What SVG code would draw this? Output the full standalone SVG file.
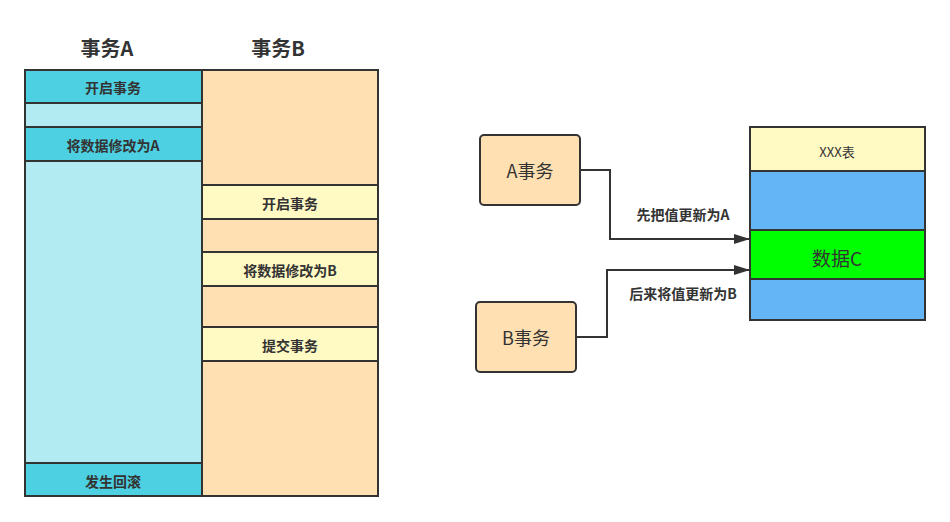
<svg xmlns="http://www.w3.org/2000/svg" width="950" height="522" viewBox="0 0 950 522">
<defs>
<style>
text{font-family:"Noto Sans CJK SC","Liberation Sans",sans-serif;fill:#333;text-anchor:middle;dominant-baseline:central}
.b{font-weight:bold;font-size:14px}
.h{font-weight:bold;font-size:20px}
.n{font-size:18px}
.c{stroke:#333;stroke-width:2}
.conn{fill:none;stroke:#333;stroke-width:2}
</style>
<marker id="arr2" viewBox="0 0 16 10" refX="16" refY="5" markerWidth="16" markerHeight="10" markerUnits="userSpaceOnUse" orient="auto"><path d="M0,0 L16,5 L0,10 z" fill="#333"/></marker>
</defs>
<g id="headers">
<text class="h" x="107" y="47">事务A</text>
<text class="h" x="278" y="47">事务B</text>
</g>
<g id="colA">
<rect class="c" x="25" y="70" width="177" height="426" fill="#B2EBF2"/>
</g>
<g id="colB">
<rect class="c" x="202" y="70" width="176" height="426" fill="#FFE0B2"/>
</g>
<g id="a1"><rect class="c" x="25" y="70" width="177" height="33" fill="#4DD0E1"/><text class="b" x="113" y="87">开启事务</text></g>
<g id="a2"><rect class="c" x="25" y="127" width="177" height="34" fill="#4DD0E1"/><text class="b" x="113" y="145">将数据修改为A</text></g>
<g id="a3"><rect class="c" x="25" y="463" width="177" height="33" fill="#4DD0E1"/><text class="b" x="113" y="481">发生回滚</text></g>
<g id="b1"><rect class="c" x="202" y="185" width="176" height="34" fill="#FFF9C4"/><text class="b" x="290" y="203">开启事务</text></g>
<g id="b2"><rect class="c" x="202" y="252" width="176" height="34" fill="#FFF9C4"/><text class="b" x="290" y="270">将数据修改为B</text></g>
<g id="b3"><rect class="c" x="202" y="327" width="176" height="34" fill="#FFF9C4"/><text class="b" x="290" y="345">提交事务</text></g>
<g id="txA"><rect class="c" x="480" y="135" width="100" height="70" rx="4" fill="#FFE0B2"/><text class="n" x="530" y="170">A事务</text></g>
<g id="txB"><rect class="c" x="476" y="302" width="100" height="70" rx="4" fill="#FFE0B2"/><text class="n" x="526" y="337">B事务</text></g>
<g id="table">
<rect class="c" x="750" y="127" width="175" height="44" fill="#FFF9C4"/>
<text x="837" y="151" font-size="13">XXX表</text>
<rect class="c" x="750" y="171" width="175" height="59" fill="#64B5F6"/>
<rect class="c" x="750" y="230" width="175" height="49" fill="#00FF00"/>
<text x="837" y="257" font-size="19">数据C</text>
<rect class="c" x="750" y="279" width="175" height="41" fill="#64B5F6"/>
</g>
<g id="connectors">
<path class="conn" d="M580,170 H610 V239 H750" marker-end="url(#arr2)"/>
<path class="conn" d="M576,337 H607 V270 H750" marker-end="url(#arr2)"/>
<text class="b" x="683" y="214">先把值更新为A</text>
<text class="b" x="683" y="293">后来将值更新为B</text>
</g>
</svg>
